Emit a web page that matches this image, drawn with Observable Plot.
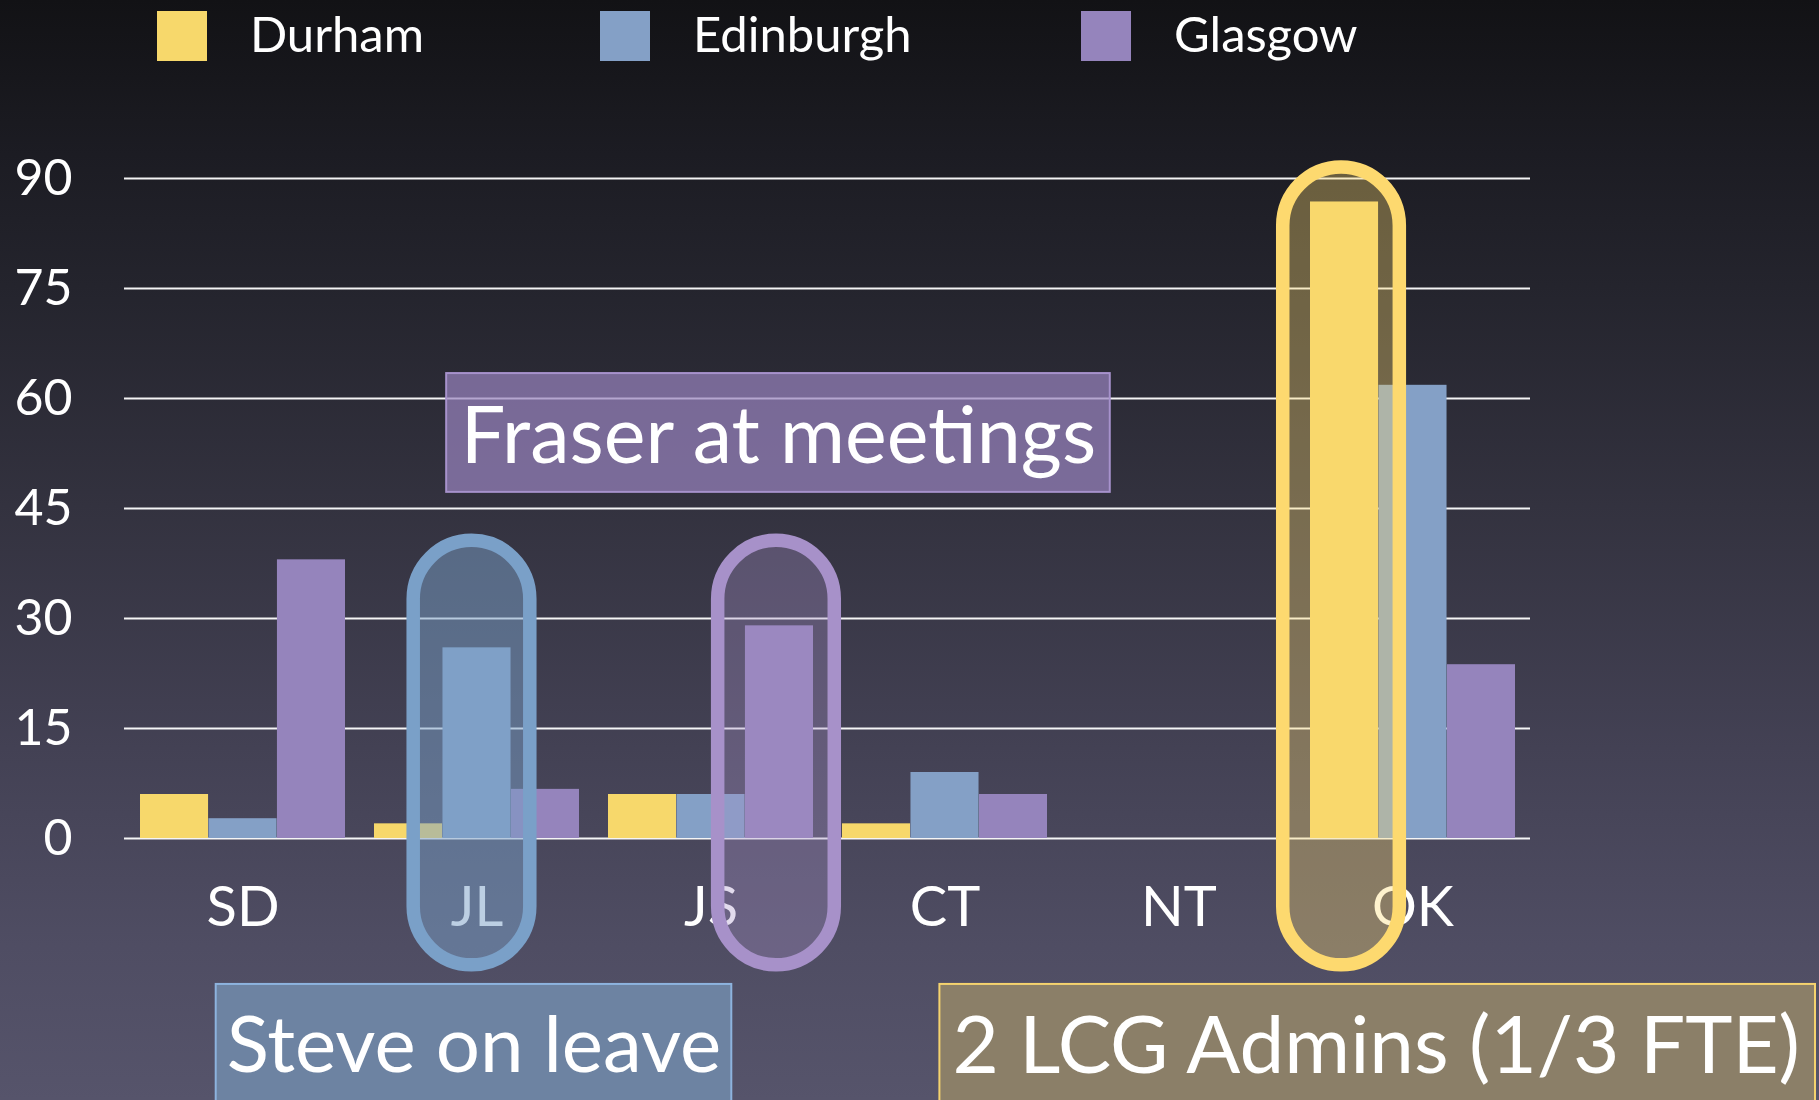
<!DOCTYPE html>
<html>
<head>
<meta charset="utf-8">
<script src="https://cdn.jsdelivr.net/npm/d3@7"></script>
<script src="https://cdn.jsdelivr.net/npm/@observablehq/plot@0.6"></script>
<style>
  html, body { margin: 0; padding: 0; width: 1819px; height: 1100px; overflow: hidden; }
  body {
    font-family: Lato, "Open Sans", sans-serif;
    background: linear-gradient(to bottom, #121215 0%, #1c1c23 14%, #24242d 26%, #33323f 46%, #434154 68%, #4f4d63 86%, #56546b 100%);
  }
  #legend { position: relative; height: 100px; }
  .sw { position: absolute; top: 11px; width: 50px; height: 50px; }
  .lt { position: absolute; top: 4px; font-size: 49px; color: #fff; line-height: 1.2; white-space: nowrap; }
  #chart svg { display: block; overflow: visible; }
</style>
</head>
<body>
<div id="legend"></div>
<div id="chart"></div>
<script>
// ---- data ----
const persons = ["SD", "JL", "JS", "CT", "NT", "OK"];
const sites = ["Durham", "Edinburgh", "Glasgow"];
const durham = [6, 2, 6, 2, 0, 86.8];
const edinburgh = [2.7, 26, 6, 9, 0, 61.8];
const glasgow = [38, 6.7, 29, 6, 0, 23.7];
const yTicks = [0, 15, 30, 45, 60, 75, 90];
const siteColors = ["#f7d86b", "#84a0c6", "#9584bc"];

// highlighted bars (rounded outlines)
const hlPerson = ["JL", "JS", "OK"];
const hlSite = ["Edinburgh", "Glasgow", "Durham"];
const hlTop = [40.6, 40.6, 91.5];
const hlBottom = [-17.3, -17.3, -17.3];
const hlStroke = ["#7aa0c8", "#a791c9", "#fdd96f"];
const hlOpacity = [0.5, 0.33, 0.35];

// notes
const noteText = ["Fraser at meetings", "Steve on leave", "2 LCG Admins (1/3 FTE)"];
const notePerson = ["JS", "JL", "OK"];
const noteTop = [63.4, -19.9, -19.9];
const noteBottom = [47.2, -45, -45];
const noteMid = [54.7, -28.5, -28.5];

// ---- layout ----
const W = 1819, H = 1000, ML = 124, MR = 289, MT = 78, MB = 262;
const xScale = Plot.scale({x: {type: "band", domain: persons, range: [ML, W - MR], paddingInner: 0.124, paddingOuter: 0.06}});
const bw = xScale.bandwidth;
const third = bw / 3;

const values = [durham, edinburgh, glasgow];
const rows = persons.flatMap((p, i) => sites.map((s, j) => ({person: p, site: s, value: values[j][i]})));

// legend
const legend = document.getElementById("legend");
const swX = [157, 600, 1081];
sites.forEach((s, j) => {
  const sw = document.createElement("div");
  sw.className = "sw"; sw.style.left = swX[j] + "px"; sw.style.background = siteColors[j];
  const t = document.createElement("div");
  t.className = "lt"; t.style.left = (swX[j] + 93) + "px"; t.textContent = s;
  legend.append(sw, t);
});

const barMarks = sites.map((s, j) => Plot.barY(rows.filter(d => d.site === s), {
  x: "person", y: "value", fill: siteColors[j],
  insetLeft: j * third, insetRight: (2 - j) * third
}));

const pillHalf = 58.5;
const pillShift = [-5, -3, -3];
const pillMarks = hlPerson.map((p, k) => {
  const c = (sites.indexOf(hlSite[k]) + 0.5) * third + pillShift[k];
  return Plot.barY([{person: p, top: hlTop[k], bottom: hlBottom[k]}], {
    x: "person", y1: "bottom", y2: "top",
    insetLeft: c - pillHalf, insetRight: bw - c - pillHalf,
    rx: pillHalf, fill: hlStroke[k], fillOpacity: hlOpacity[k],
    stroke: hlStroke[k], strokeWidth: 13.5
  });
});

// note boxes
const noteStyle = [
  {l: 5 * third / 2 - 333, r: bw - 5 * third / 2 - 331, fill: "#9a85c0", op: 0.7, stroke: "#a792cc", dx: third - 1, fs: 79},
  {l: bw / 2 - 261, r: bw / 2 - 255, fill: "#6d83a2", op: 1, stroke: "#8db3de", dx: -3, fs: 78},
  {l: -370.6, r: -300, fill: "#8b7f68", op: 1, stroke: "#f5d36e", dx: -36.8, fs: 80}
];
const noteMarks = notePerson.flatMap((p, k) => {
  const st = noteStyle[k];
  const d = [{person: p, top: noteTop[k], bottom: noteBottom[k], mid: noteMid[k], text: noteText[k]}];
  return [
    Plot.barY(d, {x: "person", y1: "bottom", y2: "top", insetLeft: st.l, insetRight: st.r,
      fill: st.fill, fillOpacity: st.op, stroke: st.stroke, strokeWidth: 2}),
    Plot.text(d, {x: "person", y: "mid", text: "text", dx: st.dx, fontSize: st.fs, fill: "white",
      textAnchor: "middle", lineAnchor: "middle"})
  ];
});

const chart = Plot.plot({
  width: W, height: H,
  marginLeft: ML, marginRight: MR, marginTop: MT, marginBottom: MB,
  style: {background: "transparent", color: "white", fontFamily: "Lato, 'Open Sans', sans-serif", overflow: "visible"},
  x: {type: "band", domain: persons, paddingInner: 0.124, paddingOuter: 0.06, label: null},
  y: {domain: [0, 90], label: null},
  marks: [
    Plot.ruleY(yTicks, {stroke: "white", strokeWidth: 2, strokeOpacity: 0.95}),
    Plot.axisY({ticks: yTicks, tickSize: 0, tickPadding: 52, fontSize: 50, fill: "white", label: null}),
    Plot.axisX({tickSize: 0, tickPadding: 48, fontSize: 56, fill: "white", label: null}),
    ...barMarks,
    ...pillMarks,
    ...noteMarks
  ]
});
document.getElementById("chart").append(chart);
</script>
</body>
</html>
